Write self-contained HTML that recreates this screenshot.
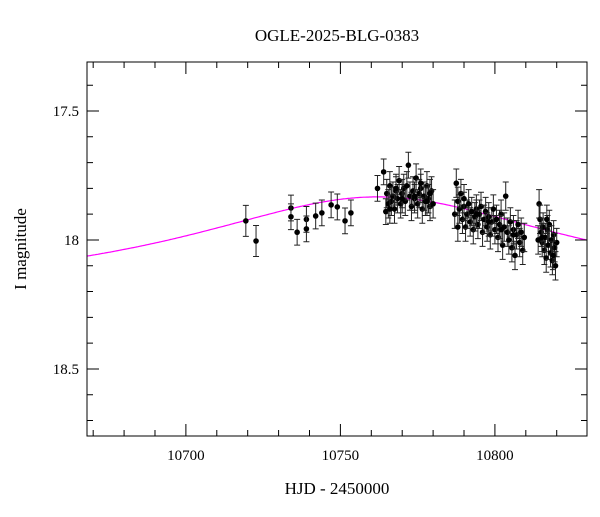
<!DOCTYPE html>
<html><head><meta charset="utf-8"><style>
body{margin:0;background:#fff}
svg text{font-family:"Liberation Serif",serif;fill:#000}
</style></head><body>
<svg id="c" width="600" height="512">
<rect x="0" y="0" width="600" height="512" fill="#fff"/>
<text x="337" y="41" font-size="17" text-anchor="middle">OGLE-2025-BLG-0383</text>
<text x="337" y="494" font-size="17" text-anchor="middle">HJD - 2450000</text>
<text x="26" y="249" font-size="17" text-anchor="middle" transform="rotate(-90 26 249)">I magnitude</text>
<g id="curve"></g>
<g id="pts"></g>
<g id="axes"></g>
</svg>
<script>
const xTicks=[10700,10750,10800];
const yTicks=[17.5,18,18.5];
const t=[10719.4,10722.7,10734,10734,10736,10739,10739,10742,10744,10747,10749,10751.5,10753.4,10762,10764,10764.7,10772,
10765,10765.5,10766,10766.5,10767,10767.5,10768,10768.5,10769,10769.5,10770,10770.5,10771,10771.5,10772.5,10773,10773.5,10774,10774.5,10775,10775.5,10776,10776.5,10777,10777.5,10778,10778.5,10779,10779.5,10780,10766,10768,10770,10774,10776,10778,10779,
10787,10787.5,10788,10788.5,10789,10789.5,10790,10790.5,10791,10791.5,10792,10792.5,10793,10793.5,10794,10794.5,10795,10795.5,10796,10796.5,10797,10797.5,10798,10798.5,10799,10799.5,10800,10800.5,10801,10801.5,10802,10802.5,10803,10803.5,10804,10804.5,10805,10805.5,10806,10806.5,10807,10807.5,10808,10808.5,10809,10809.5,10788,10790,10794,10798,10802,10806,
10814,10814.3,10814.6,10815,10815.3,10815.6,10816,10816.3,10816.6,10817,10817.3,10817.6,10818,10818.3,10818.6,10819,10819.3,10819.6,10820,10815.2,10816.8,10818.8];
const mag=[17.926,18.004,17.876,17.91,17.97,17.92,17.957,17.907,17.895,17.864,17.872,17.926,17.895,17.8,17.736,17.89,17.71,
17.82,17.86,17.79,17.85,17.83,17.88,17.81,17.84,17.77,17.86,17.82,17.8,17.85,17.79,17.83,17.87,17.81,17.84,17.76,17.86,17.82,17.8,17.88,17.83,17.85,17.79,17.84,17.87,17.81,17.86,17.88,17.8,17.84,17.83,17.78,17.85,17.82,17.9,
17.78,17.85,17.88,17.82,17.92,17.87,17.95,17.9,17.86,17.93,17.89,17.96,17.91,17.88,17.94,17.9,17.87,17.97,17.92,17.89,17.95,17.91,17.98,17.93,17.88,17.96,17.92,17.99,17.94,17.9,18.02,17.95,17.83,17.97,18.0,17.93,18.03,17.96,18.06,17.98,17.94,18.01,17.97,18.04,17.99,17.95,17.84,17.9,17.93,17.96,17.98,18.0,
17.86,17.92,17.97,18.01,17.95,18.04,17.99,18.07,17.96,18.02,17.94,18.05,18.0,18.08,17.98,18.03,18.1,18.01,17.99,17.92,18.06,18.04];
const err=[0.06,0.06,0.05,0.05,0.05,0.05,0.05,0.05,0.05,0.05,0.05,0.05,0.05,0.05,0.05,0.05,0.05];
const t0=10762,u0=0.5,tE=120,fs=0.34,I0=18.2;
const L=87,R=587,T=62,B=436,X0=10668,X1=10829.8,Y0=17.31,Y1=18.76;
const sx=v=>L+(v-X0)/(X1-X0)*(R-L), sy=v=>T+(v-Y0)/(Y1-Y0)*(B-T);
const NS='http://www.w3.org/2000/svg';
function mk(tag,p,a){const e=document.createElementNS(NS,tag);for(const k in a)e.setAttribute(k,a[k]);p.appendChild(e);return e;}
// model
const cg=document.getElementById('curve');let d='';
for(let x=X0;x<=X1;x+=0.5){const u=Math.sqrt(u0*u0+((x-t0)/tE)**2);const A=(u*u+2)/(u*Math.sqrt(u*u+4));const m=I0-2.5*Math.log10(fs*A+1-fs);d+=(d?'L':'M')+sx(x).toFixed(1)+','+sy(m).toFixed(1);}
const cp=mk('path',cg,{d:d,fill:'none',stroke:'#ff00ff','stroke-width':1.2});


// points
const pg=document.getElementById('pts');
t.forEach((tv,i)=>{const e=err[i]!==undefined?err[i]:0.055;const x=sx(tv),y=sy(mag[i]),y1=sy(mag[i]-e),y2=sy(mag[i]+e);
const g=mk('g',pg,{});


mk('path',g,{d:`M${x},${y1}V${y2}M${x-3},${y1}H${x+3}M${x-3},${y2}H${x+3}`,stroke:'#222','stroke-width':1});
mk('circle',g,{cx:x,cy:y,r:2.8,fill:'#000'});});
// axes
const ag=document.getElementById('axes');
mk('rect',ag,{x:L,y:T,width:R-L,height:B-T,fill:'none',stroke:'#000','stroke-width':1});
let tk='';
for(let v=10670;v<=10829;v+=10){const x=sx(v),big=v%50===0;const l=big?12:6;tk+=`M${x},${B}V${B-l}M${x},${T}V${T+l}`;}
for(let k=0;k<=14;k++){const v=17.4+k*0.1;if(v>Y1)break;const y=sy(v),big=Math.abs(v*2-Math.round(v*2))<1e-6;const l=big?12:6;tk+=`M${L},${y}H${L+l}M${R},${y}H${R-l}`;}
const tp=mk('path',ag,{d:tk,stroke:'#000','stroke-width':1});


xTicks.forEach(v=>{const e=mk('text',ag,{x:sx(v),y:B+24,'font-size':15,'text-anchor':'middle'});e.textContent=v;

});
yTicks.forEach(v=>{const e=mk('text',ag,{x:L-8,y:sy(v)+5,'font-size':15,'text-anchor':'end'});e.textContent=v;

});
</script>
</body></html>
